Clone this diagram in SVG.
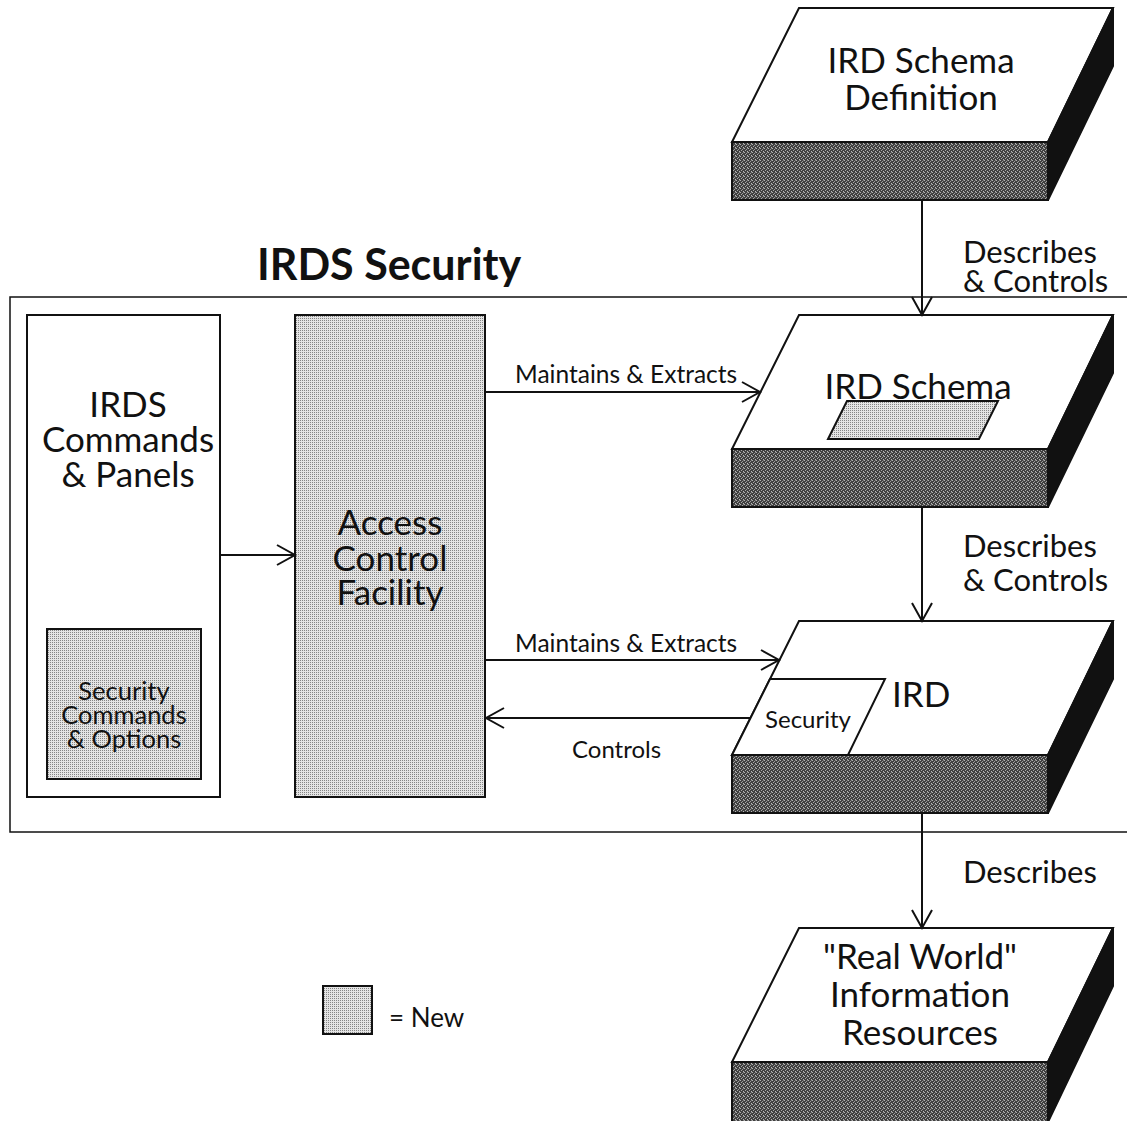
<svg xmlns="http://www.w3.org/2000/svg" width="1127" height="1121" viewBox="0 0 1127 1121">
<style>
  .t{font-family:Lato,"Open Sans","Liberation Sans",sans-serif;fill:#111}
  .big{font-size:35px}
  .mid{font-size:31px}
  .sm{font-size:24px}
  .c{text-anchor:middle}
  .ol{stroke:#111;stroke-width:2;stroke-linejoin:miter}
  .ln{stroke:#111;stroke-width:2;fill:none}
</style>
<defs>
  <pattern id="light" width="2" height="2" patternUnits="userSpaceOnUse">
    <rect width="2" height="2" fill="#e4e4e4"/>
    <rect width="1" height="1" fill="#858585"/>
  </pattern>
  <pattern id="dark" width="4" height="4" patternUnits="userSpaceOnUse">
    <rect width="4" height="4" fill="#404040"/>
    <rect x="0" y="0" width="1" height="1" fill="#b0b0b0"/>
    <rect x="2" y="1" width="1" height="1" fill="#9a9a9a"/>
    <rect x="1" y="2" width="1" height="1" fill="#a8a8a8"/>
    <rect x="3" y="3" width="1" height="1" fill="#b8b8b8"/>
    <rect x="3" y="0" width="1" height="1" fill="#777"/>
  </pattern>
  <marker id="ah" markerUnits="userSpaceOnUse" markerWidth="24" markerHeight="24" viewBox="-20 -12 22 24" refX="0" refY="0" orient="auto">
    <path d="M-18,-10 L0,0 L-18,10" fill="none" stroke="#111" stroke-width="2"/>
  </marker>
</defs>

<!-- Security frame -->
<g id="frame">
  <rect x="10" y="297" width="1130" height="535" fill="none" stroke="#111" stroke-width="1.5"/>
  <text class="t" x="257" y="280" style="font-size:43px;font-weight:bold">IRDS Security</text>
</g>

<!-- IRD Schema Definition slab -->
<g id="node-schema-def">
  <polygon class="ol" points="799,8 1113,8 1048,142 732,142" fill="#fff"/>
  <polygon class="ol" points="732,142 1048,142 1048,200 732,200" fill="url(#dark)"/>
  <polygon class="ol" points="1048,142 1113,8 1113,66 1048,200" fill="#111"/>
  <text class="t big c" x="921" y="73">IRD Schema</text>
  <text class="t big c" x="921" y="110">Definition</text>
</g>

<!-- IRD Schema slab -->
<g id="node-schema">
  <polygon class="ol" points="799,315 1113,315 1048,449 732,449" fill="#fff"/>
  <polygon class="ol" points="732,449 1048,449 1048,507 732,507" fill="url(#dark)"/>
  <polygon class="ol" points="1048,449 1113,315 1113,373 1048,507" fill="#111"/>
  <polygon class="ol" points="847,401 998,401 979,439 828,439" fill="url(#light)"/>
  <text class="t big c" x="918" y="399">IRD Schema</text>
</g>

<!-- IRD slab -->
<g id="node-ird">
  <polygon class="ol" points="799,621 1113,621 1048,755 732,755" fill="#fff"/>
  <polygon class="ol" points="732,755 1048,755 1048,813 732,813" fill="url(#dark)"/>
  <polygon class="ol" points="1048,755 1113,621 1113,679 1048,813" fill="#111"/>
  <polygon class="ol" points="770,679 885,679 848,755 732,755" fill="#fff"/>
  <text class="t sm c" x="808" y="728">Security</text>
  <text class="t big" x="892" y="707">IRD</text>
</g>

<!-- Real World slab -->
<g id="node-real-world">
  <polygon class="ol" points="799,928 1113,928 1048,1062 732,1062" fill="#fff"/>
  <polygon class="ol" points="732,1062 1048,1062 1048,1122 732,1122" fill="url(#dark)"/>
  <polygon class="ol" points="1048,1062 1113,928 1113,986 1048,1122" fill="#111"/>
  <text class="t big c" x="920" y="969">"Real World"</text>
  <text class="t big c" x="920" y="1007">Information</text>
  <text class="t big c" x="920" y="1045">Resources</text>
</g>

<!-- IRDS Commands & Panels -->
<g id="node-commands">
  <rect class="ol" x="27" y="315" width="193" height="482" fill="#fff"/>
  <text class="t big c" x="128" y="417">IRDS</text>
  <text class="t big c" x="128" y="452">Commands</text>
  <text class="t big c" x="128" y="487">&amp; Panels</text>
</g>

<!-- Security Commands & Options -->
<g id="node-sec-commands">
  <rect class="ol" x="47" y="629" width="154" height="150" fill="url(#light)"/>
  <text class="t c" x="124" y="700" style="font-size:25.5px">Security</text>
  <text class="t c" x="124" y="724" style="font-size:25.5px">Commands</text>
  <text class="t c" x="124" y="748" style="font-size:25.5px">&amp; Options</text>
</g>

<!-- Access Control Facility -->
<g id="node-acf">
  <rect class="ol" x="295" y="315" width="190" height="482" fill="url(#light)"/>
  <text class="t big c" x="390" y="535">Access</text>
  <text class="t big c" x="390" y="571">Control</text>
  <text class="t big c" x="390" y="605">Facility</text>
</g>

<!-- Legend -->
<g id="legend">
  <rect class="ol" x="323" y="986" width="49" height="48" fill="url(#light)"/>
  <text class="t" x="389" y="1027" style="font-size:26px">= New</text>
</g>

<!-- Connectors -->
<g id="connectors">
  <line class="ln" x1="922" y1="200" x2="922" y2="315" marker-end="url(#ah)"/>
  <line class="ln" x1="922" y1="507" x2="922" y2="621" marker-end="url(#ah)"/>
  <line class="ln" x1="922" y1="813" x2="922" y2="928" marker-end="url(#ah)"/>
  <line class="ln" x1="220" y1="555" x2="295" y2="555" marker-end="url(#ah)"/>
  <line class="ln" x1="485" y1="392" x2="760" y2="392" marker-end="url(#ah)"/>
  <line class="ln" x1="485" y1="660" x2="779" y2="660" marker-end="url(#ah)"/>
  <line class="ln" x1="751" y1="718" x2="486" y2="718" marker-end="url(#ah)"/>
  <text class="t mid" x="963" y="263">Describes</text>
  <text class="t mid" x="963" y="292">&amp; Controls</text>
  <text class="t mid" x="963" y="557">Describes</text>
  <text class="t mid" x="963" y="591">&amp; Controls</text>
  <text class="t mid" x="963" y="883">Describes</text>
  <text class="t" x="515" y="383" style="font-size:24.5px">Maintains &amp; Extracts</text>
  <text class="t" x="515" y="652" style="font-size:24.5px">Maintains &amp; Extracts</text>
  <text class="t sm" x="572" y="758">Controls</text>
</g>
</svg>
